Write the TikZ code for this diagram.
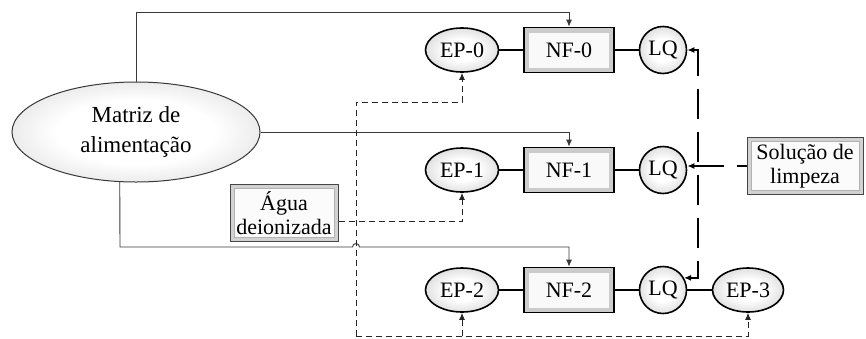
\documentclass[tikz,border=0pt]{standalone}
\usepackage{fontspec}
\setmainfont{Liberation Serif}
\usetikzlibrary{shapes.geometric,arrows.meta}
\newcommand\myfs{\fontsize{22}{27}\selectfont}
\newcommand\mybigfs{\fontsize{23}{30}\selectfont}
\pgfdeclareradialshading{softrim}{\pgfpoint{0bp}{0bp}}{color(0bp)=(white); color(12bp)=(white); color(24bp)=(gray!22); color(36bp)=(gray!65); color(50bp)=(gray!65)}
\pgfdeclareradialshading{softrimb}{\pgfpoint{0bp}{0bp}}{color(0bp)=(white); color(16bp)=(white); color(27bp)=(gray!18); color(36bp)=(gray!55); color(50bp)=(gray!55)}
\begin{document}
\begin{tikzpicture}[x=1pt,y=-1pt,
  ep/.style={ellipse, draw=black, line width=1.6pt, shading=softrim,
    minimum width=73pt, minimum height=44pt, inner sep=0pt, font=\myfs},
  lq/.style={circle, draw=black, line width=1.6pt, shading=softrim,
    minimum size=47pt, inner sep=0pt, font=\myfs},
  nfbox/.style={rectangle, draw=black, line width=1.6pt, fill=gray!40,
    minimum width=90pt, minimum height=45pt, inner sep=0pt, font=\myfs,
    path picture={\fill[gray!5] ([shift={(5pt,5pt)}]path picture bounding box.south west)
      rectangle ([shift={(-5pt,-5pt)}]path picture bounding box.north east);}},
  srcbox/.style={rectangle, draw=gray!55!black, line width=1pt, fill=gray!35,
    inner sep=0pt, font=\myfs, align=center,
    path picture={\filldraw[fill=gray!3, draw=gray!60, line width=0.5pt]
      ([shift={(4pt,4pt)}]path picture bounding box.south west)
      rectangle ([shift={(-4pt,-4pt)}]path picture bounding box.north east);}},
  feed/.style={draw=gray!45!black, line width=0.9pt},
  link/.style={draw=black, line width=1.6pt},
  dline/.style={draw=gray!30!black, line width=0.9pt, dash pattern=on 6pt off 4pt},
  cline/.style={draw=black, line width=1.5pt, dash pattern=on 30pt off 13pt},
  tip/.style={-{Latex[length=7pt,width=6pt]}},
  tipl/.style={{Latex[length=7pt,width=6pt]}-},
  tips/.style={{Latex[length=7pt,width=6pt]}-{Latex[length=7pt,width=6pt]}}
]
\useasboundingbox (0,0) rectangle (866,338);

% nodes
\node[ellipse, draw=gray!45!black, line width=1pt, shading=softrimb,
  minimum width=248pt, minimum height=100pt, inner sep=0pt, font=\mybigfs, align=center]
  (matriz) at (136,132) {Matriz de\\alimentação};

\node[ep] (ep0) at (462,50) {EP-0};
\node[nfbox] (nf0) at (569,50) {NF-0};
\node[lq] (lq0) at (663,50) {LQ};

\node[ep] (ep1) at (462,170) {EP-1};
\node[nfbox] (nf1) at (569,170) {NF-1};
\node[lq] (lq1) at (663,170) {LQ};

\node[ep] (ep2) at (462,290) {EP-2};
\node[nfbox] (nf2) at (569,290) {NF-2};
\node[lq] (lq2) at (663,290) {LQ};
\node[ep, minimum width=71pt] (ep3) at (748,290) {EP-3};

\node[srcbox, minimum width=108pt, minimum height=57pt] (agua) at (284,213) {Água\\[-3pt]deionizada};
\node[srcbox, minimum width=116pt, minimum height=57pt] (sol) at (805,166) {Solução de\\[-3pt]limpeza};

% process row links
\draw[link] (ep0) -- (nf0) -- (lq0);
\draw[link] (ep1) -- (nf1) -- (lq1);
\draw[link] (ep2) -- (nf2) -- (lq2) -- (ep3);

% feed lines
\draw[feed, tip] (matriz.north) -- (136,12) -| (nf0.north);
\draw[feed, tip] (matriz.east) -- (nf1.north |- matriz.east) -- (nf1.north);
\draw[feed, tip] (matriz.252) -- (120,247) -- (352.5,247)
  arc[start angle=180, end angle=360, radius=3.5] -| (nf2.north);

% deionized water network
\coordinate (dtop) at (356,102);
\coordinate (dbot) at (356,336);
\draw[dline, tip] ([yshift=-8pt]agua.east) -| (ep1.south);
\draw[dline, tip] (dbot) -- (dtop) -| (ep0.south);
\draw[dline, tip] (dbot) -| (ep3.south);
\draw[dline, tip] (ep2.south |- dbot) -- (ep2.south);

% cleaning solution
\coordinate (cj) at (698,166);
\draw[cline, tips] (lq0.east) -| (cj) |- (lq2.30);
\draw[cline, tipl] (lq1.east |- sol.west) -- (sol.west);
\end{tikzpicture}
\end{document}
